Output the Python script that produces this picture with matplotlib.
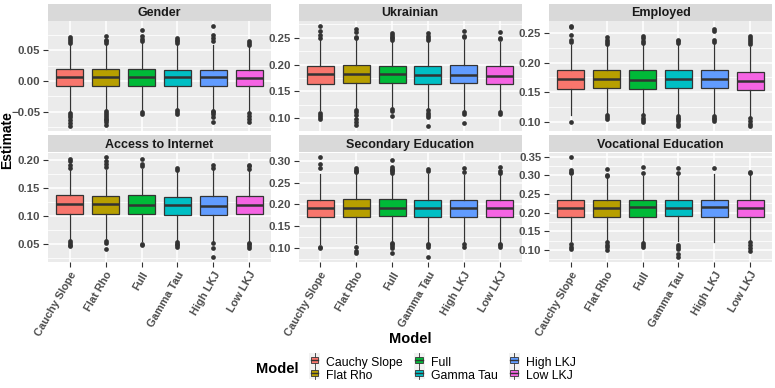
import matplotlib
matplotlib.use("Agg")
import matplotlib.pyplot as plt
from matplotlib.patches import Rectangle, Patch
from matplotlib.lines import Line2D
from matplotlib.legend_handler import HandlerBase
from matplotlib.ticker import MultipleLocator, AutoMinorLocator, FuncFormatter

plt.rcParams['font.family'] = ['Liberation Sans', 'DejaVu Sans']

models = ["Cauchy Slope", "Flat Rho", "Full", "Gamma Tau", "High LKJ", "Low LKJ"]
colors = ["#F8766D", "#B79F00", "#00BA38", "#00BFC4", "#619CFF", "#F564E3"]
panels = ["Gender", "Ukrainian", "Employed",
          "Access to Internet", "Secondary Education", "Vocational Education"]

# per model: lower whisker, q1, median, q3, upper whisker
gender_box = [[-0.048, -0.008, 0.006, 0.019, 0.060],
              [-0.047, -0.008, 0.006, 0.019, 0.059],
              [-0.050, -0.009, 0.006, 0.020, 0.062],
              [-0.046, -0.008, 0.007, 0.018, 0.058],
              [-0.046, -0.008, 0.006, 0.018, 0.058],
              [-0.048, -0.009, 0.005, 0.017, 0.056]]
gender_out = [[0.062, 0.065, 0.068, 0.071, -0.052, -0.055, -0.058, -0.064, -0.068, -0.073],
              [0.061, 0.064, 0.067, 0.073, -0.049, -0.052, -0.055, -0.058, -0.061, -0.064, -0.067, -0.071],
              [0.065, 0.068, 0.072, 0.082, -0.051, -0.054],
              [0.061, 0.064, 0.067, 0.070, -0.047, -0.050, -0.053],
              [0.064, 0.069, 0.074, 0.089, -0.048, -0.051, -0.054, -0.058, -0.066],
              [0.058, 0.061, 0.065, -0.052, -0.057, -0.062, -0.066]]

ukr_box = [[0.115, 0.164, 0.182, 0.198, 0.245],
           [0.118, 0.165, 0.183, 0.199, 0.246],
           [0.119, 0.165, 0.182, 0.197, 0.243],
           [0.118, 0.164, 0.181, 0.197, 0.243],
           [0.115, 0.165, 0.181, 0.199, 0.246],
           [0.115, 0.163, 0.179, 0.197, 0.242]]
ukr_out = [[0.250, 0.255, 0.262, 0.272, 0.110, 0.106, 0.102, 0.098],
           [0.249, 0.252, 0.260, 0.267, 0.115, 0.111, 0.105, 0.099, 0.093, 0.087],
           [0.246, 0.249, 0.252, 0.255, 0.258, 0.116, 0.113, 0.104],
           [0.246, 0.250, 0.254, 0.258, 0.114, 0.110, 0.106, 0.101, 0.085],
           [0.251, 0.254, 0.263, 0.111, 0.107, 0.091],
           [0.247, 0.250, 0.261, 0.111, 0.107]]

emp_box = [[0.112, 0.156, 0.1725, 0.187, 0.230],
           [0.115, 0.157, 0.173, 0.187, 0.228],
           [0.114, 0.156, 0.170, 0.187, 0.230],
           [0.113, 0.157, 0.172, 0.187, 0.230],
           [0.113, 0.157, 0.172, 0.188, 0.232],
           [0.110, 0.154, 0.169, 0.1845, 0.227]]
emp_out = [[0.235, 0.238, 0.246, 0.261, 0.262, 0.099],
           [0.232, 0.235, 0.238, 0.244, 0.112, 0.108, 0.105],
           [0.234, 0.237, 0.242, 0.245, 0.111, 0.107, 0.103, 0.100],
           [0.234, 0.236, 0.238, 0.110, 0.107, 0.104, 0.101, 0.097, 0.093],
           [0.235, 0.238, 0.253, 0.257, 0.110, 0.107, 0.104, 0.101],
           [0.232, 0.235, 0.238, 0.242, 0.245, 0.106, 0.101, 0.097, 0.093]]

net_box = [[0.058, 0.104, 0.122, 0.137, 0.183],
           [0.057, 0.104, 0.121, 0.136, 0.183],
           [0.054, 0.104, 0.120, 0.138, 0.185],
           [0.056, 0.102, 0.119, 0.134, 0.180],
           [0.055, 0.102, 0.118, 0.135, 0.182],
           [0.055, 0.104, 0.120, 0.136, 0.182]]
net_out = [[0.186, 0.191, 0.199, 0.203, 0.055, 0.051, 0.048, 0.045],
           [0.187, 0.193, 0.198, 0.205, 0.054, 0.051, 0.041],
           [0.189, 0.193, 0.202, 0.050, 0.047],
           [0.183, 0.186, 0.053, 0.050, 0.047, 0.044],
           [0.186, 0.192, 0.052, 0.043, 0.026],
           [0.185, 0.189, 0.192, 0.052, 0.049, 0.046, 0.043]]

sec_box = [[0.110, 0.170, 0.192, 0.211, 0.269],
           [0.111, 0.171, 0.192, 0.212, 0.270],
           [0.116, 0.174, 0.192, 0.212, 0.268],
           [0.113, 0.172, 0.192, 0.211, 0.270],
           [0.112, 0.170, 0.191, 0.210, 0.267],
           [0.114, 0.172, 0.192, 0.211, 0.270]]
sec_out = [[0.284, 0.294, 0.308, 0.102, 0.100],
           [0.274, 0.277, 0.280, 0.284, 0.101, 0.093, 0.089],
           [0.273, 0.276, 0.279, 0.282, 0.285, 0.302, 0.112, 0.108, 0.104, 0.100, 0.089],
           [0.277, 0.281, 0.109, 0.106, 0.103, 0.079],
           [0.274, 0.284, 0.108, 0.103],
           [0.273, 0.276, 0.286, 0.110, 0.106, 0.103]]

voc_box = [[0.125, 0.189, 0.2125, 0.233, 0.299],
           [0.125, 0.189, 0.2125, 0.233, 0.293],
           [0.125, 0.189, 0.214, 0.234, 0.299],
           [0.125, 0.190, 0.2125, 0.234, 0.300],
           [0.122, 0.189, 0.215, 0.235, 0.305],
           [0.125, 0.189, 0.212, 0.234, 0.300]]
voc_out = [[0.306, 0.310, 0.315, 0.348, 0.115, 0.107, 0.102],
           [0.297, 0.302, 0.318, 0.120, 0.112, 0.107, 0.101],
           [0.307, 0.322, 0.118, 0.113, 0.108],
           [0.306, 0.319, 0.113, 0.108, 0.102, 0.088, 0.081],
           [0.320],
           [0.307, 0.310, 0.120, 0.112, 0.104, 0.098]]

panel_boxes = [gender_box, ukr_box, emp_box, net_box, sec_box, voc_box]
panel_outs = [gender_out, ukr_out, emp_out, net_out, sec_out, voc_out]

W, H = 775, 388
fig = plt.figure(figsize=(W / 100, H / 100), dpi=100)

col_x = [48, 298.5, 549]
pw = 223
rows = [(4, 21, 131), (135, 152.5, 262)]  # strip top, plot top, plot bottom

grey20 = "#333333"


def fmt(v, p):
    if abs(v) < 1e-9:
        v = 0.0
    return f"{v:.2f}".replace("-", "\u2212")


for i, name in enumerate(panels):
    r, c = divmod(i, 3)
    st, pt, pb = rows[r]
    x0 = col_x[c]
    ax = fig.add_axes([x0 / W, 1 - pb / H, pw / W, (pb - pt) / H])
    sax = fig.add_axes([x0 / W, 1 - pt / H, pw / W, (pt - st) / H])
    sax.set_facecolor("#D9D9D9")
    sax.set_xticks([])
    sax.set_yticks([])
    for s in sax.spines.values():
        s.set_visible(False)
    sax.text(0.5, 0.45, name, ha="center", va="center", fontsize=9,
             fontweight="bold", color="#1A1A1A", transform=sax.transAxes)

    stats = []
    allv = []
    for j, m in enumerate(models):
        lo, q1, med, q3, hi = panel_boxes[i][j]
        fl = panel_outs[i][j]
        stats.append(dict(whislo=lo, q1=q1, med=med, q3=q3, whishi=hi,
                          fliers=fl, label=m))
        allv += [lo, hi] + fl
    bp = ax.bxp(stats, positions=range(1, 7), widths=0.75, patch_artist=True,
                showcaps=False,
                boxprops=dict(edgecolor=grey20, linewidth=0.9),
                medianprops=dict(color=grey20, linewidth=1.8),
                whiskerprops=dict(color=grey20, linewidth=0.9),
                flierprops=dict(marker="o", markerfacecolor=grey20,
                                markeredgecolor="none", markersize=3.4))
    for patch, col in zip(bp["boxes"], colors):
        patch.set_facecolor(col)

    lo, hi = min(allv), max(allv)
    pad = (hi - lo) * 0.05
    ax.set_ylim(lo - pad, hi + pad)
    ax.set_xlim(0.4, 6.6)
    ax.set_facecolor("#EBEBEB")
    for s in ax.spines.values():
        s.set_visible(False)
    ax.yaxis.set_major_locator(MultipleLocator(0.05))
    ax.yaxis.set_minor_locator(AutoMinorLocator(2))
    ax.yaxis.set_major_formatter(FuncFormatter(fmt))
    ax.set_axisbelow(True)
    ax.grid(True, which="major", color="white", linewidth=1.1)
    ax.grid(True, which="minor", axis="y", color="white", linewidth=0.55)
    ax.tick_params(axis="y", which="major", length=3.5, width=0.8, color=grey20,
                   labelcolor="#4D4D4D", labelsize=8.2, pad=2)
    ax.tick_params(axis="y", which="minor", length=0)
    for t in ax.get_yticklabels():
        t.set_fontweight("bold")
    ax.set_xticks(range(1, 7))
    if r == 0:
        ax.tick_params(axis="x", length=0, labelbottom=False)
    else:
        ax.tick_params(axis="x", length=3.5, width=0.8, color=grey20,
                       labelcolor="#4D4D4D", labelsize=7.9, pad=2)
        ax.set_xticklabels(models, rotation=60, ha="right", va="top",
                           rotation_mode="anchor", fontweight="bold")


class BoxKey(HandlerBase):
    def create_artists(self, legend, orig, xd, yd, w, h, fontsize, trans):
        col = orig.get_facecolor()
        bg = Rectangle((xd, yd - 1), w, h + 2, facecolor="#F2F2F2",
                       edgecolor="none", transform=trans)
        cx = xd + w / 2
        wl = Line2D([cx, cx], [yd - 1, yd + h + 1], color=grey20, lw=0.6,
                    transform=trans)
        bx = Rectangle((xd + w * 0.15, yd + h * 0.2), w * 0.7, h * 0.6,
                       facecolor=col, edgecolor=grey20, lw=0.6, transform=trans)
        md = Line2D([xd + w * 0.15, xd + w * 0.85], [yd + h / 2, yd + h / 2],
                    color=grey20, lw=1.0, transform=trans)
        return [bg, wl, bx, md]


handles = [Patch(facecolor=c) for c in colors]
fig.legend(handles=handles, labels=models, ncol=3, loc="center left",
           bbox_to_anchor=(303 / W, 1 - 369 / H), frameon=False,
           handler_map={Patch: BoxKey()}, fontsize=8.8, handlelength=0.9,
           handleheight=0.9, handletextpad=0.5, columnspacing=0.9,
           labelspacing=0.05, borderpad=0)
fig.text(277 / W, 1 - 369 / H, "Model", ha="center", va="center",
         fontsize=10.5, fontweight="bold")

fig.text(410 / W, 1 - 339 / H, "Model", ha="center", va="center",
         fontsize=10.5, fontweight="bold")
fig.text(7 / W, 1 - 140 / H, "Estimate", ha="center", va="center",
         rotation=90, fontsize=10, fontweight="bold")

fig.savefig("out.png", dpi=100)
